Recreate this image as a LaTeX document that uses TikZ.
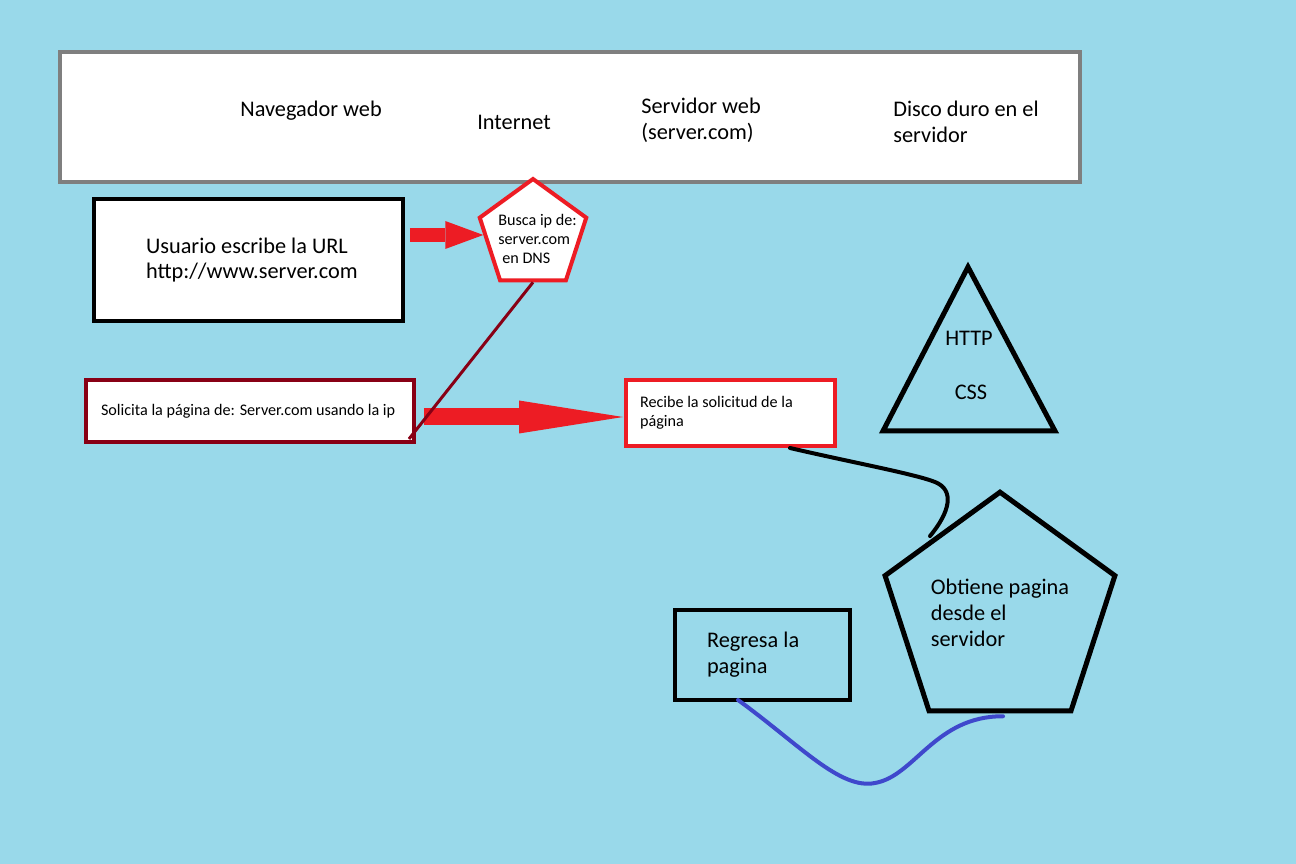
\documentclass[tikz,border=0pt]{standalone}
\usepackage{fontspec}
\setmainfont{Carlito}
\usetikzlibrary{shapes.geometric,arrows.meta,calc}

\definecolor{fondo}{HTML}{99D9EA}
\definecolor{rojo}{HTML}{ED1C24}
\definecolor{granate}{HTML}{880015}
\definecolor{gris}{HTML}{7F7F7F}
\definecolor{azul}{HTML}{3F48CC}

\tikzstyle{bigfont} = [font=\fontsize{12.7}{14.7}\selectfont]
\tikzstyle{smallfont} = [font=\fontsize{9.2}{10.8}\selectfont]
\tikzstyle{texto} = [inner sep=0pt, align=left, anchor=west]
\tikzstyle{block} = [rectangle, draw, line width=0.8mm, align=flush left, inner ysep=0pt]
\tikzstyle{pent} = [regular polygon, regular polygon sides=5, draw, inner sep=0pt]
\tikzstyle{flecha} = [draw=rojo, line width=2.8mm, -{Triangle[length=7.6mm, width=5.6mm, line width=0pt]}]

\begin{document}
\begin{tikzpicture}[x=0.02cm, y=-0.02cm]
    \fill [fondo] (0,0) rectangle (1296,864);
    \useasboundingbox (0,0) rectangle (1296,864);

    \node [block, draw=gris, fill=white, minimum width=204mm, minimum height=26mm] (Cabecera) at (570,117) {};
    \node [texto, bigfont] (Navegador) at (240,111) {Navegador web};
    \node [texto, bigfont] (Internet) at (477,122) {Internet};
    \node [texto, bigfont] (Servidor) at (641,120) {Servidor web\\(server.com)};
    \node [texto, bigfont] (Disco) at (893,122) {Disco duro en el\\servidor};

    \node [pent, draw=rojo, fill=white, line width=0.8mm, minimum size=22.4mm] (Busca) at (533,235) {};
    \node [texto, smallfont] (BuscaTexto) at (498,239) {Busca ip de:\\server.com\\\hspace*{0.8mm}en DNS};

    \node [block, fill=white, bigfont, minimum width=61.8mm, minimum height=24.4mm, text width=41mm, inner xsep=10.4mm] (Usuario) at (248.5,260) {\mbox{Usuario escribe la URL}\\\mbox{http://www.server.com}};
    \node [block, draw=granate, fill=white, smallfont, minimum width=65.6mm, minimum height=12.4mm, text width=59.6mm, inner xsep=3mm] (Solicita) at (250,411) {\raisebox{-1mm}{Solicita la página de: Server.com usando la ip}};
    \node [block, draw=rojo, fill=white, smallfont, minimum width=41.8mm, minimum height=13.2mm, text width=36.2mm, inner xsep=2.8mm] (Recibe) at (730.5,413) {\mbox{Recibe la solicitud de la}\\página};

    \draw [line width=1mm] (968,267) -- (1055,431) -- (883,431) -- cycle;
    \node [bigfont] (HTTP) at (969,338) {HTTP};
    \node [bigfont] (CSS) at (971,392) {CSS};

    \node [pent, line width=1mm, minimum size=45.6mm, bigfont, align=left] (Obtiene) at (1000,613) {Obtiene pagina\\desde el\\servidor};
    \node [block, bigfont, minimum width=35mm, minimum height=18mm, text width=22.2mm, inner xsep=6.4mm] (Regresa) at (762.5,655) {\mbox{Regresa la}\\pagina};

    \path [flecha] ($(Usuario.east |- Busca.center)+(5,0)$) -- (Busca.180);
    \path [flecha, line width=3.4mm, -{Triangle[length=20.8mm, width=6.6mm, line width=0pt]}] ($(Solicita.east)+(8,6)$) -- ($(Recibe.west)+(-1,4)$);
    \path [draw=granate, line width=0.6mm] (Busca.south) -- ($(Solicita.south east)+(-7,-5)$);
    \path [draw, line width=0.8mm, line cap=round] ($(Recibe.south east)+(-47,0)$) .. controls (850,462) and (915,474) .. (935,482) .. controls (955,490) and (950,512) .. ($(Obtiene.north)+(-70,47)$);
    \path [draw=azul, line width=0.8mm, line cap=round] ($(Regresa.south west)+(65,-2)$) .. controls (800,745) and (840,790) .. (875,783) .. controls (915,776) and (935,716) .. ($(Obtiene.south)+(3,3)$);
\end{tikzpicture}
\end{document}
